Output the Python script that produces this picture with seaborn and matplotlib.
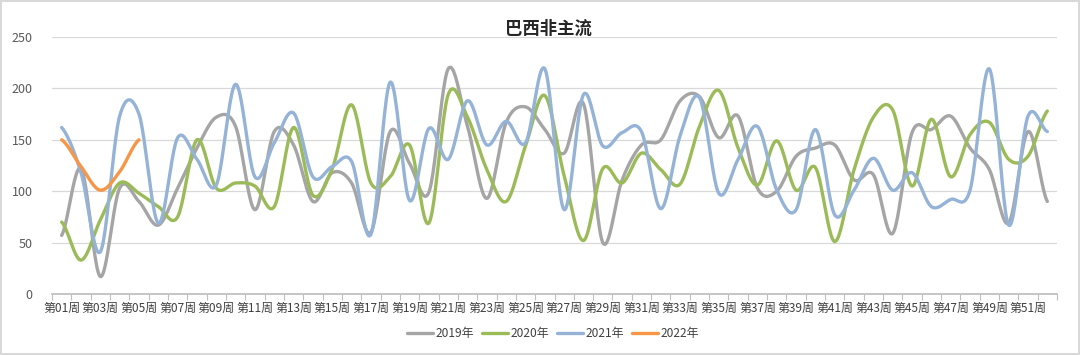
import numpy as np
import pandas as pd
import matplotlib
matplotlib.use("Agg")
import matplotlib.pyplot as plt
import seaborn as sns

# ---- data ----
weeks = [f"第{i:02d}周" for i in range(1, 53)]
years = ["2019年", "2020年", "2021年", "2022年"]
v2019 = [57, 122, 17, 103, 90, 67, 103, 142, 172, 163, 82, 158, 145, 90, 118, 108,
         60, 158, 127, 99, 219, 163, 93, 167, 182, 160, 137, 185, 50, 111, 145, 150,
         188, 192, 152, 173, 103, 100, 134, 142, 145, 111, 116, 59, 157, 160, 173, 142,
         121, 69, 158, 90]
v2020 = [70, 33, 72, 108, 98, 85, 75, 150, 103, 108, 105, 85, 162, 96, 122, 184,
         108, 114, 145, 69, 194, 172, 121, 90, 144, 193, 115, 52, 122, 108, 137, 121,
         107, 163, 198, 142, 106, 149, 101, 123, 51, 121, 172, 179, 105, 170, 114, 155,
         167, 131, 134, 178]
v2021 = [162, 118, 41, 173, 175, 69, 152, 131, 106, 204, 114, 147, 176, 114, 124, 129,
         58, 206, 91, 161, 131, 188, 145, 168, 147, 219, 82, 194, 144, 157, 158, 83,
         154, 191, 98, 131, 163, 101, 82, 160, 77, 101, 132, 101, 118, 85, 92, 101,
         219, 67, 173, 158]
v2022 = [150, 124, 101, 119, 150]
colors = ["#A5A5A5", "#9BBB59", "#95B3D7", "#F79646"]
title = "巴西非主流"

sns.set_theme(style="white")
plt.rcParams["font.family"] = ["Noto Sans CJK SC", "DejaVu Sans"]


def smooth(vals, n=24):
    """Catmull-Rom style smoothing (like Excel's smoothed line)."""
    p = np.asarray(vals, float)
    ext = np.concatenate([[p[0]], p, [p[-1]]])
    xs, ys = [], []
    t = np.linspace(0, 1, n, endpoint=False)
    for i in range(len(p) - 1):
        P0, P1, P2, P3 = ext[i], ext[i + 1], ext[i + 2], ext[i + 3]
        y = 0.5 * (2 * P1 + (-P0 + P2) * t + (2 * P0 - 5 * P1 + 4 * P2 - P3) * t ** 2
                   + (-P0 + 3 * P1 - 3 * P2 + P3) * t ** 3)
        xs.extend(i + 1 + t)
        ys.extend(y)
    xs.append(len(p))
    ys.append(p[-1])
    return np.array(xs), np.array(ys)


frames = []
for yr, vals in zip(years, [v2019, v2020, v2021, v2022]):
    x, y = smooth(vals)
    frames.append(pd.DataFrame({"x": x, "v": y, "year": yr}))
df = pd.concat(frames, ignore_index=True)

fig = plt.figure(figsize=(10.8, 3.55), dpi=100)
fig.patch.set_facecolor("white")
fig.patch.set_edgecolor("#D9D9D9")
fig.patch.set_linewidth(1.5)
ax = fig.add_axes([52 / 1080, 1 - 294 / 355, (1057 - 52) / 1080, (294 - 37) / 355])

sns.lineplot(data=df, x="x", y="v", hue="year", palette=colors, hue_order=years,
             sort=False, estimator=None, linewidth=2.4, ax=ax, legend=True)

ax.set_xlim(0.5, 52.5)
ax.set_ylim(0, 250)
ax.set_yticks(range(0, 251, 50))
ax.tick_params(axis="y", labelsize=9, colors="#595959", length=0, pad=14)
ax.grid(axis="y", color="#D9D9D9", linewidth=0.9)
ax.set_axisbelow(True)
ax.set_xticks(list(range(1, 53, 2)))
ax.set_xticklabels(weeks[::2])
ax.set_xticks(np.arange(0.5, 53, 1), minor=True)
ax.tick_params(axis="x", which="major", length=0, labelsize=8.6, colors="#404040", pad=6)
ax.tick_params(axis="x", which="minor", length=4, color="#BFBFBF", width=0.8, bottom=True)
for s in ["top", "right", "left"]:
    ax.spines[s].set_visible(False)
ax.spines["bottom"].set_color("#BFBFBF")
ax.set_xlabel("")
ax.set_ylabel("")

handles, labels = ax.get_legend_handles_labels()
ax.get_legend().remove()
fig.legend(handles, labels, loc="center", bbox_to_anchor=(553 / 1080, 1 - 334 / 355),
           ncol=4, frameon=False, fontsize=8.6, handlelength=2.2, handletextpad=0.25,
           columnspacing=0.6, labelcolor="#404040")

fig.text(548 / 1080, 1 - 29 / 355, title, ha="center", va="center", fontsize=12.5,
         fontweight="bold", color="#262626")

fig.savefig("out.png", dpi=100, facecolor=fig.get_facecolor(), edgecolor=fig.get_edgecolor())
